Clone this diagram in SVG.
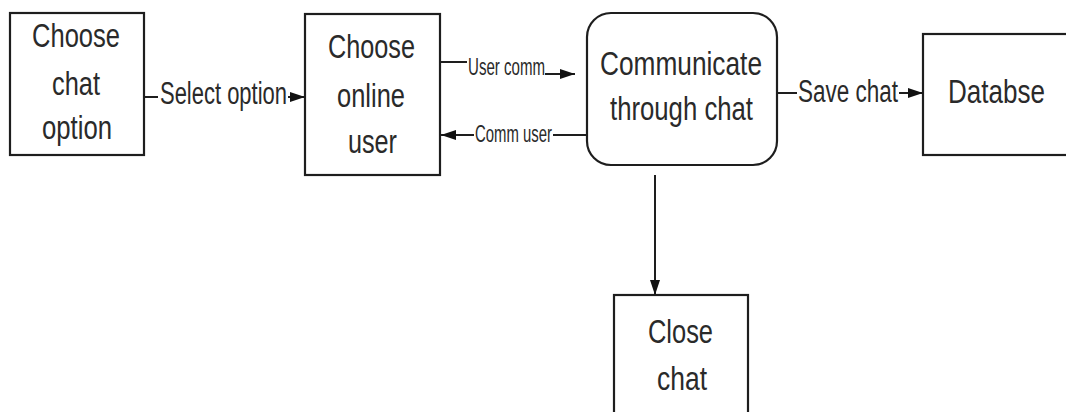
<svg xmlns="http://www.w3.org/2000/svg" width="1066" height="412" viewBox="0 0 1066 412">
  <style>
    .box { fill: #ffffff; stroke: #1e1e1e; stroke-width: 2.2; }
    .node { font-family: "Liberation Sans", Arial, sans-serif; font-size: 34px; fill: #2a2a2a; }
    .lbl { font-family: "Liberation Sans", Arial, sans-serif; font-size: 31px; fill: #2a2a2a; }
    .sm { font-family: "Liberation Sans", Arial, sans-serif; font-size: 23px; fill: #2a2a2a; }
    .edge { fill: none; stroke: #1e1e1e; stroke-width: 2; }
  </style>
  <defs>
    <marker id="arrow" viewBox="0 0 15 10" refX="15" refY="5" markerWidth="7.5" markerHeight="5" markerUnits="strokeWidth" orient="auto">
      <path d="M0,0 L15,5 L0,10 Z" fill="#111111"/>
    </marker>
  </defs>
  <rect width="1066" height="412" fill="#ffffff"/>

  <g id="choose-chat-option">
    <rect class="box" x="10" y="13" width="134" height="142"/>
    <text class="node" x="32" y="47" textLength="88" lengthAdjust="spacingAndGlyphs">Choose</text>
    <text class="node" x="52" y="95" textLength="48" lengthAdjust="spacingAndGlyphs">chat</text>
    <text class="node" x="42" y="139" textLength="70" lengthAdjust="spacingAndGlyphs">option</text>
  </g>

  <g id="choose-online-user">
    <rect class="box" x="305" y="14" width="135" height="161"/>
    <text class="node" x="328" y="58" textLength="87" lengthAdjust="spacingAndGlyphs">Choose</text>
    <text class="node" x="337" y="107" textLength="68" lengthAdjust="spacingAndGlyphs">online</text>
    <text class="node" x="348" y="153" textLength="49" lengthAdjust="spacingAndGlyphs">user</text>
  </g>

  <g id="communicate-through-chat">
    <rect class="box" x="587" y="13" width="190" height="152" rx="24" ry="24"/>
    <text class="node" x="600" y="75" textLength="162" lengthAdjust="spacingAndGlyphs">Communicate</text>
    <text class="node" x="610" y="120" textLength="143" lengthAdjust="spacingAndGlyphs">through chat</text>
  </g>

  <g id="database">
    <rect class="box" x="923" y="34" width="146" height="121"/>
    <text class="node" x="948" y="103" textLength="97" lengthAdjust="spacingAndGlyphs">Databse</text>
  </g>

  <g id="close-chat">
    <rect class="box" x="614" y="295" width="134" height="140"/>
    <text class="node" x="648" y="343" textLength="65" lengthAdjust="spacingAndGlyphs">Close</text>
    <text class="node" x="657" y="390" textLength="50" lengthAdjust="spacingAndGlyphs">chat</text>
  </g>

  <g id="connectors">
    <!-- Choose chat option -> Choose online user -->
    <line class="edge" x1="144" y1="97" x2="158" y2="97"/>
    <text class="lbl" x="160" y="104" textLength="127" lengthAdjust="spacingAndGlyphs">Select option</text>
    <line class="edge" x1="288" y1="97" x2="305" y2="97" marker-end="url(#arrow)"/>

    <!-- Choose online user -> Communicate -->
    <line class="edge" x1="440" y1="62" x2="467" y2="62"/>
    <text class="sm" x="468" y="75" textLength="77" lengthAdjust="spacingAndGlyphs">User comm</text>
    <line class="edge" x1="545" y1="74" x2="575" y2="74" marker-end="url(#arrow)"/>

    <!-- Communicate -> Choose online user -->
    <line class="edge" x1="587" y1="135" x2="553" y2="135"/>
    <text class="sm" x="475" y="142" textLength="77" lengthAdjust="spacingAndGlyphs">Comm user</text>
    <line class="edge" x1="474" y1="135" x2="441" y2="135" marker-end="url(#arrow)"/>

    <!-- Communicate -> Database -->
    <line class="edge" x1="777" y1="93" x2="797" y2="93"/>
    <text class="lbl" x="798" y="102" textLength="100" lengthAdjust="spacingAndGlyphs">Save chat</text>
    <line class="edge" x1="899" y1="93" x2="923" y2="93" marker-end="url(#arrow)"/>

    <!-- Communicate -> Close chat -->
    <line class="edge" x1="655" y1="175" x2="655" y2="295" marker-end="url(#arrow)"/>
  </g>
</svg>
